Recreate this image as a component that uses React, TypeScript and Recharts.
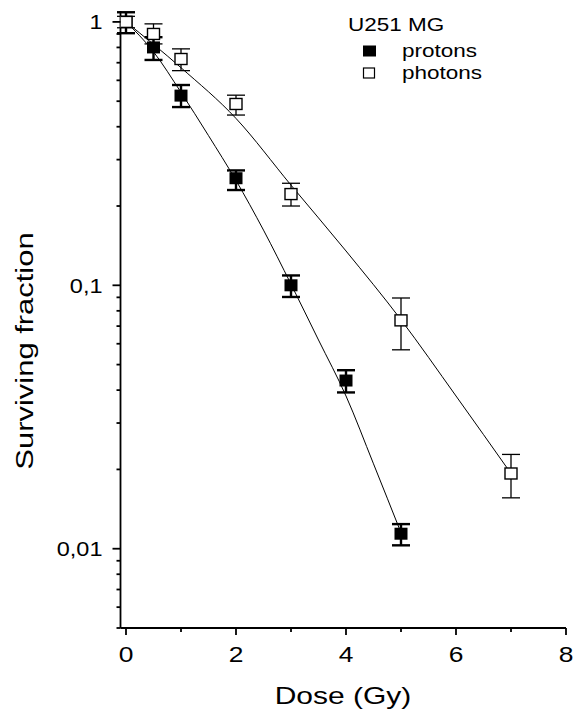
import { ComposedChart, Customized, ErrorBar, Line, Scatter, XAxis, YAxis } from 'recharts';

const protonDose = [0, 0.5, 1, 2, 3, 4, 5];
const protonSF = [1.0, 0.8, 0.525, 0.255, 0.1, 0.0435, 0.0114];
const protonLow = [0.906, 0.717, 0.475, 0.23, 0.0903, 0.0392, 0.0103];
const protonHigh = [1.088, 0.875, 0.576, 0.273, 0.109, 0.0476, 0.0124];

const photonDose = [0, 0.5, 1, 2, 3, 5, 7];
const photonSF = [1.0, 0.9, 0.723, 0.488, 0.222, 0.0736, 0.0193];
const photonLow = [0.95, 0.825, 0.653, 0.443, 0.2, 0.0569, 0.0156];
const photonHigh = [1.05, 0.983, 0.79, 0.527, 0.244, 0.0895, 0.0228];

// fitted curves
const protonFitDose = [0, 0.5, 1, 1.5, 2, 2.5, 3, 3.5, 4, 4.5, 5];
const protonFitSF = [1.0, 0.77, 0.54, 0.37, 0.25, 0.162, 0.101, 0.062, 0.038, 0.021, 0.0115];
const photonFitDose = [0, 1, 2, 3, 4, 5, 6, 7];
const photonFitSF = [1.0, 0.67, 0.43, 0.24, 0.135, 0.074, 0.038, 0.0193];

const xTicks = [0, 1, 2, 3, 4, 5, 6, 7, 8];
const xMajorTicks = [0, 2, 4, 6, 8];
const yTicks = [
  0.005, 0.006, 0.007, 0.008, 0.009, 0.01,
  0.02, 0.03, 0.04, 0.05, 0.06, 0.07, 0.08, 0.09, 0.1,
  0.2, 0.3, 0.4, 0.5, 0.6, 0.7, 0.8, 0.9, 1,
];
const yMajorTicks = [0.01, 0.1, 1];
const yMajorLabels = ['0,01', '0,1', '1'];

const FONT = '"Liberation Sans", Arial, sans-serif';

const protons = protonDose.map((d, i) => ({
  dose: d,
  sf: protonSF[i],
  err: [protonSF[i] - protonLow[i], protonHigh[i] - protonSF[i]],
}));
const photons = photonDose.map((d, i) => ({
  dose: d,
  sf: photonSF[i],
  err: [photonSF[i] - photonLow[i], photonHigh[i] - photonSF[i]],
}));
const protonFit = protonFitDose.map((d, i) => ({ dose: d, sf: protonFitSF[i] }));
const photonFit = photonFitDose.map((d, i) => ({ dose: d, sf: photonFitSF[i] }));

// the original lettering is a wide sans, so stretch Arial horizontally
function WideText({ x, y, size, sx, anchor = 'start', rotate = 0, children }: any) {
  return (
    <g transform={`translate(${x},${y}) rotate(${rotate}) scale(${sx},1)`}>
      <text x={0} y={0} fontSize={size} fontFamily={FONT} textAnchor={anchor} fill='#000'>
        {children}
      </text>
    </g>
  );
}

function XTick({ x, y, payload }: any) {
  const major = xMajorTicks.includes(payload.value);
  return (
    <g>
      <line x1={x} x2={x} y1={y} y2={y + (major ? 7 : 4)} stroke='#000' strokeWidth={1.8} />
      {major && (
        <WideText x={x} y={y + 34} size={22} sx={1.2} anchor='middle'>
          {payload.value}
        </WideText>
      )}
    </g>
  );
}

function YTick({ x, y, payload }: any) {
  const idx = yMajorTicks.findIndex((v) => Math.abs(v - payload.value) < 1e-9);
  const major = idx >= 0;
  return (
    <g>
      <line x1={x - (major ? 8 : 4)} x2={x} y1={y} y2={y} stroke='#000' strokeWidth={1.8} />
      {major && (
        <WideText x={x - 18} y={y + 7.5} size={21} sx={1.12} anchor='end'>
          {yMajorLabels[idx]}
        </WideText>
      )}
    </g>
  );
}

const FilledSquare = ({ cx, cy }: any) => (
  <rect x={cx - 6.5} y={cy - 6} width={13} height={12} fill='#000' />
);
const OpenSquare = ({ cx, cy }: any) => (
  <rect x={cx - 6} y={cy - 5.5} width={12} height={11} fill='#fff' stroke='#000' strokeWidth={1.4} />
);

function Annotations() {
  return (
    <g>
      <WideText x={348} y={31} size={18} sx={1.25}>U251 MG</WideText>
      <rect x={363} y={45.5} width={13} height={11} fill='#000' />
      <WideText x={402} y={57} size={18} sx={1.25}>protons</WideText>
      <rect x={363.5} y={68} width={11} height={10} fill='#fff' stroke='#000' strokeWidth={1.2} />
      <WideText x={402} y={79} size={18} sx={1.25}>photons</WideText>
      <WideText x={343} y={704} size={24} sx={1.25} anchor='middle'>Dose (Gy)</WideText>
      <WideText x={33} y={351} size={24} sx={1.29} anchor='middle' rotate={-90}>
        Surviving fraction
      </WideText>
    </g>
  );
}

export default function App() {
  return (
    <div style={{ position: 'absolute', left: 0, top: 0, background: '#fff' }}>
      <ComposedChart
        width={575}
        height={711}
        margin={{ top: 11, right: 9, left: 60.5, bottom: 33 }}
      >
        <XAxis
          dataKey='dose'
          type='number'
          domain={[-0.1, 8]}
          ticks={xTicks}
          allowDataOverflow
          tickLine={false}
          tickSize={0}
          tickMargin={0}
          tick={<XTick />}
          axisLine={{ stroke: '#000', strokeWidth: 1.8 }}
          height={50}
        />
        <YAxis
          dataKey='sf'
          type='number'
          scale='log'
          domain={[0.005, 1.1]}
          ticks={yTicks}
          allowDataOverflow
          tickLine={false}
          tickSize={0}
          tickMargin={0}
          tick={<YTick />}
          axisLine={{ stroke: '#000', strokeWidth: 1.8 }}
          width={60}
          interval={0}
        />
        <Scatter data={protons} dataKey='sf' shape={<FilledSquare />} isAnimationActive={false}>
          <ErrorBar dataKey='err' direction='y' width={9} stroke='#000' strokeWidth={2.4} />
        </Scatter>
        <Scatter data={photons} dataKey='sf' shape={<OpenSquare />} isAnimationActive={false}>
          <ErrorBar dataKey='err' direction='y' width={9} stroke='#000' strokeWidth={1.3} />
        </Scatter>
        <Line
          data={protonFit}
          dataKey='sf'
          type='monotone'
          stroke='#000'
          strokeWidth={1}
          dot={false}
          isAnimationActive={false}
        />
        <Line
          data={photonFit}
          dataKey='sf'
          type='monotone'
          stroke='#000'
          strokeWidth={1}
          dot={false}
          isAnimationActive={false}
        />
        <Customized component={Annotations} />
      </ComposedChart>
    </div>
  );
}
